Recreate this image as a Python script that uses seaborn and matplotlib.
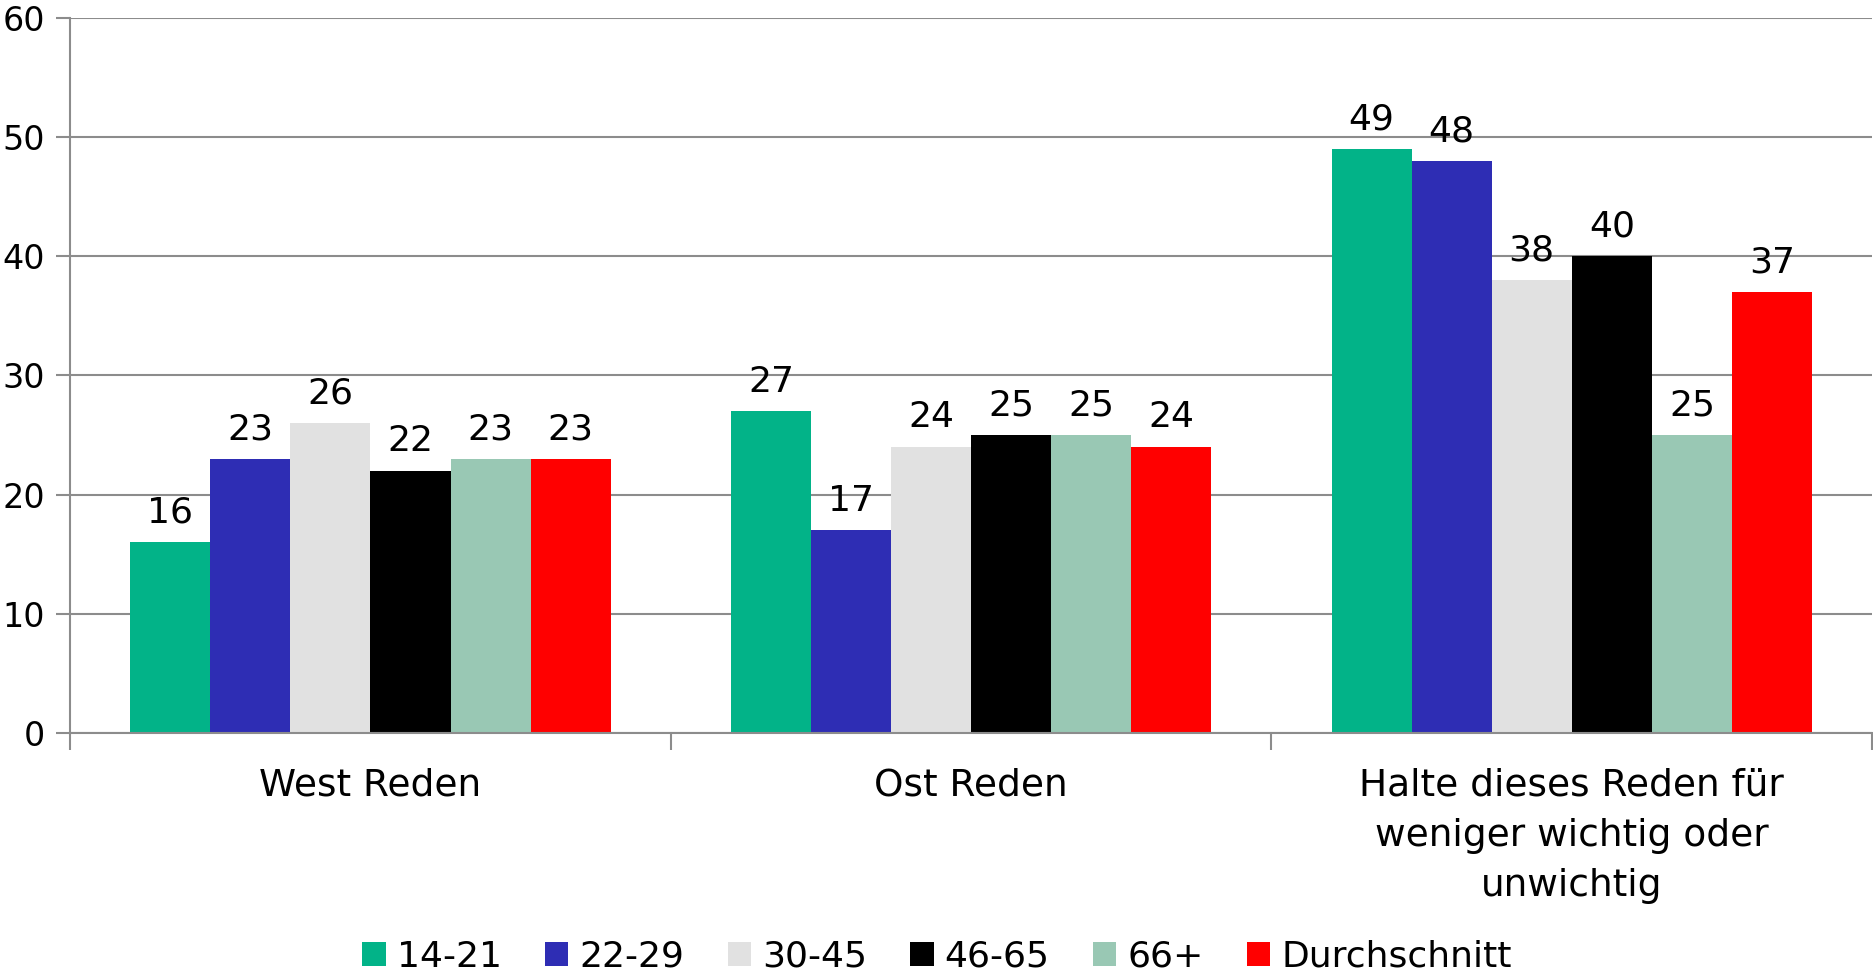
import pandas as pd
import numpy as np
import seaborn as sns
import matplotlib.pyplot as plt
from matplotlib.patches import Patch

# --- data ---
categories = ["West Reden", "Ost Reden",
              "Halte dieses Reden für\nweniger wichtig oder\nunwichtig"]
groups = ["14-21", "22-29", "30-45", "46-65", "66+", "Durchschnitt"]
v_14_21 = [16, 27, 49]
v_22_29 = [23, 17, 48]
v_30_45 = [26, 24, 38]
v_46_65 = [22, 25, 40]
v_66 = [23, 25, 25]
v_avg = [23, 24, 37]
colors = ["#02b388", "#2e2db4", "#e1e1e1", "#000000", "#99c8b4", "#ff0000"]

series = [v_14_21, v_22_29, v_30_45, v_46_65, v_66, v_avg]
df = pd.DataFrame([
    {"Kategorie": c, "Gruppe": g, "Wert": vals[i]}
    for g, vals in zip(groups, series)
    for i, c in enumerate(categories)
])

sns.set_theme(style="white")
plt.rcParams['font.family'] = ['DejaVu Sans']
plt.rcParams['text.color'] = 'black'
plt.rcParams['xtick.labelcolor'] = 'black'
plt.rcParams['ytick.labelcolor'] = 'black'

fig = plt.figure(figsize=(18.74, 9.73), dpi=100)
ax = fig.add_axes([0.0374, 0.2467, 0.9616, 0.7348])

sns.barplot(data=df, x="Kategorie", y="Wert", hue="Gruppe", order=categories,
            hue_order=groups, palette=colors, width=0.8, saturation=1,
            edgecolor="none", linewidth=0, legend=False, ax=ax)

for cont in ax.containers:
    ax.bar_label(cont, fmt="%d", padding=9, fontsize=26, color="black")

ax.set_ylim(0, 60)
ax.set_xlim(-0.5, 2.5)
ax.set_yticks(np.arange(0, 61, 10))
ax.yaxis.grid(True, color="#8c8c8c", linewidth=1.5)
ax.set_axisbelow(True)
ax.set_xlabel("")
ax.set_ylabel("")

for s in ["top", "right"]:
    ax.spines[s].set_visible(False)
for s in ["left", "bottom"]:
    ax.spines[s].set_color("#8c8c8c")
    ax.spines[s].set_linewidth(1.5)

ax.tick_params(axis="y", labelsize=24, length=10, width=1.5, color="#8c8c8c",
               direction="out", pad=8, left=True)
ax.tick_params(axis="x", which="major", labelsize=27, length=0, pad=25)
ax.set_xticks([-0.5, 0.5, 1.5, 2.5], minor=True)
ax.tick_params(axis="x", which="minor", length=12, width=1.5, color="#8c8c8c",
               direction="out", bottom=True)
for lbl in ax.get_xticklabels():
    lbl.set_linespacing(1.5)

handles = [Patch(facecolor=c, edgecolor="none") for c in colors]
fig.legend(handles, groups, loc="lower center", bbox_to_anchor=(0.5, -0.034),
           ncol=6, frameon=False, fontsize=26, handlelength=0.65,
           handleheight=0.65, handletextpad=0.3, columnspacing=1.2)

plt.savefig("out.png", dpi=100)
plt.close()
